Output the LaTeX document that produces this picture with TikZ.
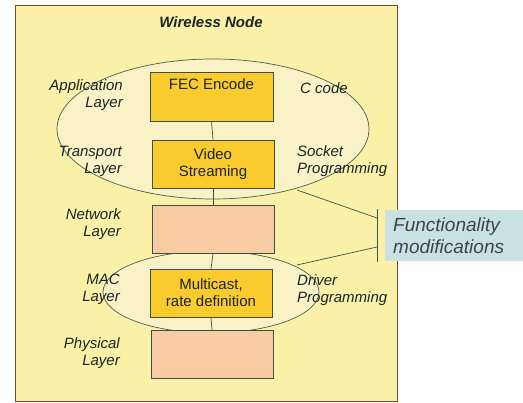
\documentclass[tikz,border=0pt]{standalone}
\usepackage{fontspec}
\setmainfont{Liberation Sans}
\usetikzlibrary{shapes.geometric}
\definecolor{outerfill}{HTML}{FAF0A8}
\definecolor{outerline}{HTML}{7A4A20}
\definecolor{ellfill}{HTML}{F8F2C6}
\definecolor{ellline}{HTML}{4A6050}
\definecolor{gold}{HTML}{F9CB2C}
\definecolor{salmon}{HTML}{F8CBA2}
\definecolor{boxline}{HTML}{3C5048}
\definecolor{bluefill}{HTML}{C9E1E1}
\definecolor{txt}{HTML}{1C2424}
\tikzset{
  lay/.style={draw=boxline, line width=0.8pt, minimum width=122pt, minimum height=48pt, inner sep=0pt},
  goldbox/.style={lay, fill=gold},
  salbox/.style={lay, fill=salmon},
  ell/.style={ellipse, draw=ellline, fill=ellfill, line width=0.7pt, inner sep=0pt},
  lbl/.style={font=\fontsize{15}{17}\selectfont\itshape, text=txt, inner sep=0pt},
  boxtxt/.style={font=\fontsize{15}{17}\selectfont, text=txt, align=center, inner sep=0pt},
  conn/.style={draw=boxline, line width=0.7pt},
}
\begin{document}
\begin{tikzpicture}[x=1pt,y=-1pt]
\useasboundingbox (0,0) rectangle (523,403);
% outer box
\node[draw=outerline, fill=outerfill, line width=0.9pt, minimum width=382pt, minimum height=396pt, inner sep=0pt, anchor=north west] (outer) at (15,5) {};
\node[font=\fontsize{15}{18}\selectfont\bfseries\itshape, text=txt] (title) at (211,22) {Wireless Node};
% ellipses
\node[ell, minimum width=312pt, minimum height=140pt] (bigell) at (213,129) {};
\node[ell, minimum width=216pt, minimum height=82pt] (smallell) at (211,292) {};
% boxes
\node[goldbox, minimum width=123pt, minimum height=49pt] (fec) at (211.5,96.5) {};
\node[boxtxt, anchor=north] (fectxt) at ([yshift=-7pt]fec.north) {FEC Encode};
\node[goldbox, boxtxt] (video) at (213,164) {Video\\Streaming};
\node[salbox] (network) at (213,229.5) {};
\node[goldbox, boxtxt] (mac) at (211,293) {Multicast,\\rate definition};
\node[salbox] (phys) at (212,354.5) {};
% connectors between layers
\draw[conn] (fec.south) -- (video.north);
\draw[conn] (video.south) -- (network.north);
\draw[conn] (network.south) -- (mac.north);
\draw[conn] (mac.south) -- (phys.north);
% left labels
\node[lbl, anchor=east, align=right] (applbl) at (123,95.5) {Application\\Layer};
\node[lbl, anchor=east, align=right] (translbl) at (122,161.5) {Transport\\Layer};
\node[lbl, anchor=east, align=right] (netlbl) at (121,224.5) {Network\\Layer};
\node[lbl, anchor=east, align=right] (maclbl) at (120,289.5) {MAC\\Layer};
\node[lbl, anchor=east, align=right] (physlbl) at (120,353) {Physical\\Layer};
% right labels
\node[lbl, anchor=west] (ccode) at (300,88) {C code};
\node[lbl, anchor=west, align=left] (socket) at (297,161) {Socket\\Programming};
\node[lbl, anchor=west, align=left] (driver) at (297,290) {Driver\\Programming};
% functionality box
\node[fill=bluefill, minimum width=138pt, minimum height=51pt, inner sep=0pt, anchor=north west] (func) at (385,210) {};
\node[font=\fontsize{19}{22}\selectfont\itshape, text=txt!85, align=left, anchor=west, inner sep=0pt] (functxt) at (393,236) {Functionality\\modifications};
\coordinate (bartop) at (377,209);
\coordinate (barbot) at (377,262);
\coordinate (hit1) at (377,218);
\coordinate (hit2) at (377,247);
\coordinate (e1) at (297,190);
\coordinate (e2) at (297,265);
\draw[conn] (bartop) -- (barbot);
\draw[conn] (e1) -- (hit1);
\draw[conn] (e2) -- (hit2);
\end{tikzpicture}
\end{document}
